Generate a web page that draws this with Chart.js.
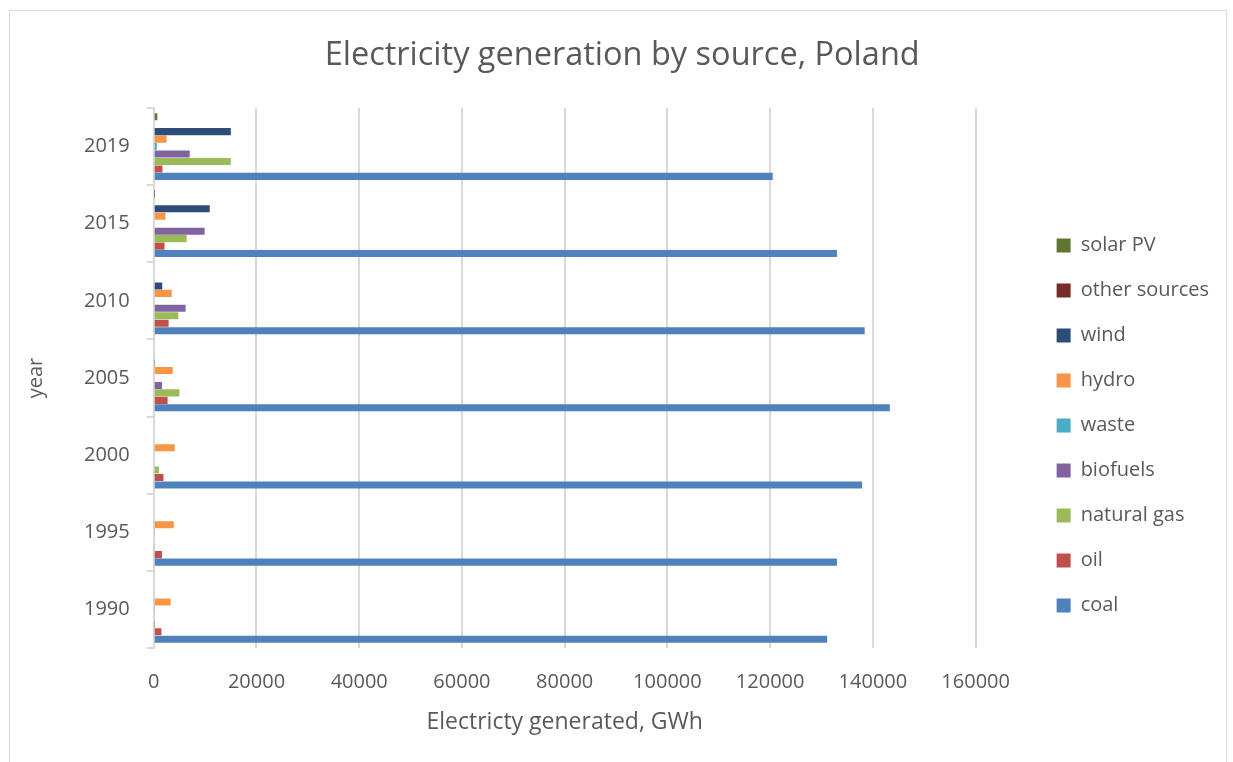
<!DOCTYPE html>
<html>
<head>
<meta charset="utf-8">
<script src="https://cdn.jsdelivr.net/npm/chart.js@4.4.1/dist/chart.umd.min.js"></script>
<style>
  body { margin: 0; background: #fff; }
  #wrap { position: relative; width: 1233px; height: 762px; }
  #frame { position: absolute; left: 9px; top: 10px; width: 1218px; height: 800px; border: 1px solid #d9d9d9; box-sizing: border-box; }
  canvas { position: absolute; left: 0; top: 0; }
</style>
</head>
<body>
<div id="wrap">
  <div id="frame"></div>
  <canvas id="chart" width="1233" height="762"></canvas>
</div>
<script>
var years = ['1990', '1995', '2000', '2005', '2010', '2015', '2019'];

var coal       = [131100, 133000, 137900, 143300, 138400, 133000, 120500];
var oil        = [1500, 1600, 1900, 2700, 2900, 2100, 1700];
var naturalGas = [20, 150, 1000, 5000, 4800, 6400, 15000];
var biofuels   = [0, 0, 200, 1600, 6200, 9900, 7000];
var waste      = [150, 150, 0, 0, 0, 0, 600];
var hydro      = [3300, 3900, 4100, 3700, 3500, 2300, 2500];
var wind       = [0, 0, 0, 135, 1650, 10900, 15000];
var other      = [0, 0, 0, 200, 0, 0, 0];
var solarPV    = [0, 0, 0, 0, 0, 57, 700];

var xTicks = [0, 20000, 40000, 60000, 80000, 100000, 120000, 140000, 160000];

// first dataset is drawn on top of each group, so solar PV goes first
var series = [
  ['solar PV', solarPV, '#5F7530'],
  ['other sources', other, '#772C2A'],
  ['wind', wind, '#2C4D75'],
  ['hydro', hydro, '#F79646'],
  ['waste', waste, '#4BACC6'],
  ['biofuels', biofuels, '#8064A2'],
  ['natural gas', naturalGas, '#9BBB59'],
  ['oil', oil, '#C0504D'],
  ['coal', coal, '#4F81BD']
];

var datasets = series.map(function(s) {
  return {
    label: s[0],
    data: s[1],
    backgroundColor: s[2],
    borderWidth: 0,
    yAxisID: 'y',
    categoryPercentage: 0.87,
    barPercentage: 0.95
  };
});

var grey = '#595959';
Chart.defaults.font.family = 'Open Sans';
Chart.defaults.color = grey;

new Chart(document.getElementById('chart'), {
  type: 'bar',
  data: { labels: years, datasets: datasets },
  options: {
    indexAxis: 'y',
    responsive: false,
    animation: false,
    layout: { padding: { left: 0, right: 14, top: 0, bottom: 26 } },
    plugins: {
      tooltip: { enabled: false },
      title: {
        display: true,
        // leading spaces nudge the centred title a bit to the right, like the original
        text: '\u00a0\u00a0\u00a0Electricity generation by source, Poland',
        color: grey,
        font: { size: 32.5, weight: 'normal' },
        padding: { top: 36, bottom: 33 }
      },
      legend: {
        position: 'right',
        // empty title only used to push the entries down
        title: { display: true, text: ' ', font: { size: 10 }, padding: { top: 103, bottom: 0 } },
        labels: {
          boxWidth: 14,
          boxHeight: 14,
          padding: 25,
          color: grey,
          font: { size: 20 }
        }
      }
    },
    scales: {
      x: {
        min: 0,
        max: 160000,
        afterBuildTicks: function(scale) {
          scale.ticks = xTicks.map(function(v) { return { value: v }; });
        },
        afterFit: function(scale) { scale.height = 88; },
        ticks: {
          color: grey,
          font: { size: 20 },
          padding: 22,
          callback: function(v) { return String(v); }
        },
        grid: { color: '#d9d9d9', lineWidth: 2, drawTicks: false },
        border: { display: false },
        title: {
          display: true,
          text: 'Electricty generated, GWh',
          color: grey,
          font: { size: 23 },
          padding: { top: 0, bottom: 0 }
        }
      },
      y: {
        reverse: true,
        ticks: { color: grey, font: { size: 20 }, padding: 17 },
        grid: { offset: true, drawOnChartArea: false, color: '#d9d9d9', lineWidth: 2, tickLength: 7 },
        border: { display: true, color: '#d9d9d9', width: 2 },
        title: {
          display: true,
          text: 'year',
          color: grey,
          font: { size: 20 },
          padding: { top: 24, bottom: 19 }
        }
      },
      // empty spacer between plot and legend
      gap: {
        type: 'category',
        axis: 'y',
        position: 'right',
        ticks: { display: false },
        grid: { display: false },
        border: { display: false },
        afterFit: function(scale) { scale.width = 56; }
      }
    }
  }
});
</script>
</body>
</html>
